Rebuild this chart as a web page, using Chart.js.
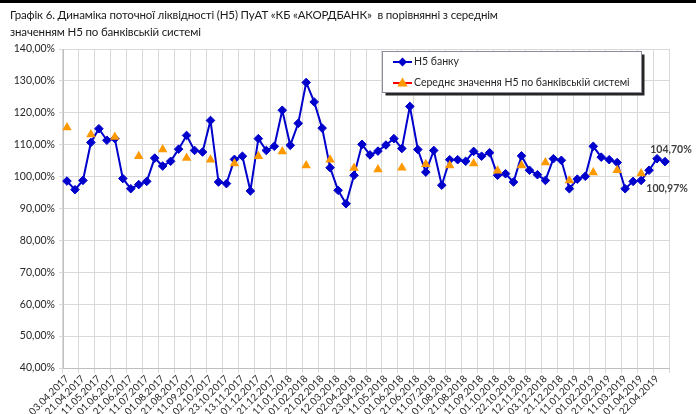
<!DOCTYPE html>
<html><head><meta charset="utf-8">
<script src="https://cdn.jsdelivr.net/npm/chart.js@4.4.1/dist/chart.umd.min.js"></script>
<style>
html,body{margin:0;padding:0;background:#fff;}
#wrap{position:relative;width:696px;height:414px;overflow:hidden;background:#fff;}
#topbar{position:absolute;left:0;top:0;width:696px;height:3px;background:#000;}
#title{position:absolute;left:10px;top:6px;font-family:Lato,'Noto Sans',sans-serif;font-size:11.5px;letter-spacing:-0.15px;line-height:17px;color:#1a1a1a;white-space:nowrap;}
canvas{position:absolute;left:0;top:0;}
</style></head>
<body>
<div id="wrap">
<canvas id="c" width="696" height="414"></canvas>
<div id="topbar"></div>
<div id="title">Графік 6. Динаміка поточної ліквідності (Н5) ПуАТ «КБ «АКОРДБАНК»&nbsp; в порівнянні з середнім<br>значенням Н5 по банківській системі</div>
</div>
<script>
const tickLabels = ['03.04.2017','21.04.2017','11.05.2017','01.06.2017','21.06.2017','11.07.2017','01.08.2017','21.08.2017','11.09.2017','02.10.2017','23.10.2017','13.11.2017','01.12.2017','21.12.2017','11.01.2018','01.02.2018','21.02.2018','12.03.2018','02.04.2018','23.04.2018','11.05.2018','01.06.2018','21.06.2018','11.07.2018','01.08.2018','21.08.2018','11.09.2018','01.10.2018','22.10.2018','12.11.2018','03.12.2018','21.12.2018','11.01.2019','01.02.2019','21.02.2019','11.03.2019','01.04.2019','22.04.2019'];

const bankH5 = [98.6,95.9,98.8,110.7,115.0,111.4,111.9,99.4,96.2,97.5,
98.5,105.8,103.3,104.8,108.6,112.9,108.2,107.7,117.6,98.3,
97.8,105.4,106.4,95.5,111.9,108.2,109.5,120.8,109.8,116.7,
129.5,123.4,115.2,102.8,95.7,91.5,100.4,110.1,106.8,108.0,
109.9,111.9,108.8,122.0,108.5,101.4,108.2,97.3,105.3,105.3,
104.8,107.9,106.4,107.5,100.4,100.9,98.3,106.5,102.0,100.6,
98.8,105.6,105.1,96.2,99.2,100.1,109.5,106.1,105.3,104.4,
96.2,98.5,98.8,102.0,105.6,104.70];

// system average, reported every 3rd observation (categories 0,3,6,...,72)
const systemAvg = [115.4,113.2,112.4,106.4,108.5,105.8,105.3,104.1,106.4,107.9,
103.5,105.3,102.7,102.2,102.8,103.9,103.5,104.1,101.8,103.5,
104.4,98.8,101.3,102.0,100.97];

const seriesNames = ['Н5 банку','Середнє значення Н5 по банківській системі'];

const categories = bankH5.map((v,i)=> i%2===0 ? tickLabels[i/2] : '');
const avgFull = bankH5.map((v,i)=> i%3===0 && systemAvg[i/3]!==undefined ? systemAvg[i/3] : null);

const FONT = "Lato, 'Noto Sans', sans-serif";
const BLUE = '#0000CC', ORANGE = '#FF9900', RED = '#FF0000';
const fmt = v => v.toFixed(2).replace('.',',') + '%';

function diamond(c,x,y,r,col){c.beginPath();c.moveTo(x,y-r);c.lineTo(x+r,y);c.lineTo(x,y+r);c.lineTo(x-r,y);c.closePath();c.fillStyle=col;c.fill();}
function tri(c,x,y,r,col){c.beginPath();c.moveTo(x,y-r);c.lineTo(x+r*0.95,y+r*0.65);c.lineTo(x-r*0.95,y+r*0.65);c.closePath();c.fillStyle=col;c.fill();}

const legendPlugin = {
  id:'boxLegend',
  afterDraw(chart){
    const c = chart.ctx;
    const x=382.5, y=51.5, w=259, h=41;
    c.save();
    c.fillStyle='#262626'; c.fillRect(x+3,y+3,w,h);
    c.fillStyle='#fff'; c.fillRect(x,y,w,h);
    c.strokeStyle='#8c8ca0'; c.lineWidth=1; c.strokeRect(x,y,w,h);
    c.strokeStyle=BLUE; c.lineWidth=2; c.beginPath(); c.moveTo(393,62); c.lineTo(412,62); c.stroke();
    diamond(c,402.5,62,4.5,BLUE);
    c.strokeStyle=RED; c.lineWidth=2; c.beginPath(); c.moveTo(393,83); c.lineTo(412,83); c.stroke();
    tri(c,402.5,83,5.5,ORANGE);
    c.fillStyle='#262626'; c.font='10.5px '+FONT; c.textBaseline='middle'; c.textAlign='left';
    c.fillText(seriesNames[0],414,62);
    c.fillText(seriesNames[1],414,83);
    c.restore();
  }
};

const labelPlugin = {
  id:'endLabels',
  afterDatasetsDraw(chart){
    const c = chart.ctx;
    c.save();
    c.font='bold 10.5px '+FONT; c.fillStyle='#404040'; c.textAlign='center'; c.textBaseline='middle';
    const m0 = chart.getDatasetMeta(0).data;
    const last = m0[m0.length-1];
    c.fillText(fmt(bankH5[bankH5.length-1]), last.x+6, last.y-12);
    const m1 = chart.getDatasetMeta(1).data;
    const p = m1[(systemAvg.length-1)*3];
    c.fillText(fmt(systemAvg[systemAvg.length-1]), p.x+26, p.y+15);
    c.restore();
  }
};

new Chart(document.getElementById('c').getContext('2d'), {
  type:'line',
  data:{
    labels:categories,
    datasets:[
      {label:seriesNames[0], data:bankH5, borderColor:BLUE, backgroundColor:BLUE, borderWidth:2,
       pointStyle:'rectRot', pointRadius:4.3, pointBorderWidth:1, pointBackgroundColor:BLUE, pointBorderColor:BLUE, tension:0, order:1},
      {label:seriesNames[1], data:avgFull, showLine:false, pointStyle:'triangle', pointRadius:5.5,
       pointBackgroundColor:ORANGE, pointBorderColor:ORANGE, borderColor:RED, backgroundColor:ORANGE, pointBorderWidth:0, order:0}
    ]
  },
  options:{
    responsive:false, animation:false, devicePixelRatio:1,
    layout:{padding:{top:49,right:27,left:0,bottom:0}},
    plugins:{legend:{display:false}, tooltip:{enabled:false}},
    scales:{
      x:{
        offset:true,
        grid:{offset:true, tickLength:5, color:ctx => (ctx.index===undefined || ctx.index%2===0) ? '#d9d9d9' : 'rgba(0,0,0,0)'},
        border:{color:'#bfbfbf'},
        ticks:{autoSkip:false, maxRotation:45, minRotation:45, padding:0, color:'#262626',
          font:{family:FONT,size:10}, callback:(v,i)=> i%2===0 ? tickLabels[i/2] : ''},
        afterFit:s=>{s.height=46;}
      },
      y:{
        min:40, max:140,
        grid:{color:'#d9d9d9', tickLength:4},
        border:{color:'#bfbfbf'},
        ticks:{stepSize:10, padding:4, color:'#262626', font:{family:FONT,size:10.5}, callback:v=>fmt(v)},
        afterFit:s=>{s.width=63;}
      }
    }
  },
  plugins:[legendPlugin,labelPlugin]
});
</script>
</body></html>
